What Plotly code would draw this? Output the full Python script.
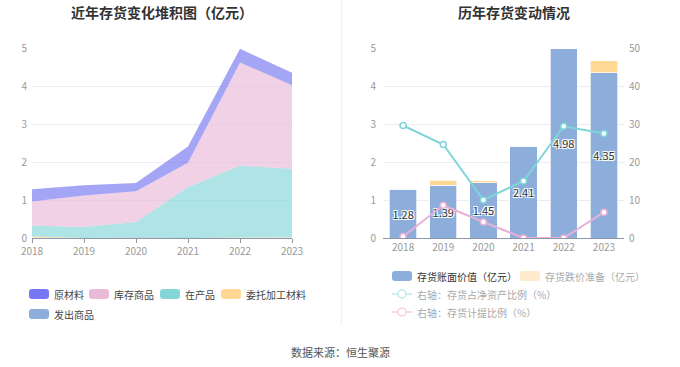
import plotly.graph_objects as go

W, H = 680, 367
FONT = "Noto Sans CJK SC, Noto Sans, sans-serif"

# ---------------- data ----------------
years = ["2018", "2019", "2020", "2021", "2022", "2023"]

# left chart: stacked inventory composition (亿元)
raw_material = [0.32, 0.27, 0.22, 0.43, 0.36, 0.33]      # 原材料
goods_in_stock = [0.63, 0.83, 0.81, 0.64, 2.72, 2.20]    # 库存商品
work_in_progress = [0.29, 0.29, 0.40, 1.34, 1.89, 1.80]  # 在产品
consigned_material = [0.04, 0.00, 0.00, 0.00, 0.01, 0.02]  # 委托加工材料
goods_shipped = [0.00, 0.00, 0.02, 0.00, 0.00, 0.00]     # 发出商品

# right chart
book_value = [1.28, 1.39, 1.45, 2.41, 4.98, 4.35]        # 存货账面价值（亿元）
impairment = [0.005, 0.13, 0.06, 0.00, 0.00, 0.32]       # 存货跌价准备（亿元）
ratio_net_assets = [29.6, 24.6, 10.0, 15.0, 29.4, 27.5]  # 存货占净资产比例（%）
provision_ratio = [0.4, 8.6, 4.2, 0.0, 0.0, 6.8]         # 存货计提比例（%）

left_ticks = [0, 1, 2, 3, 4, 5]
right_ticks = [0, 10, 20, 30, 40, 50]

# ---------------- styles ----------------
C_RAW = "#7777f2"
C_STOCK = "#e8b9d9"
C_WIP = "#84d6d9"
C_CONS = "#ffd894"
C_SHIP = "#8daed9"
C_BAR = "#8daedb"
C_IMP = "#ffd894"
C_LINE1 = "#7fd5d8"
C_LINE2 = "#e8b0d8"


def rgba(hexc, a):
    hexc = hexc.lstrip("#")
    r, g, b = int(hexc[0:2], 16), int(hexc[2:4], 16), int(hexc[4:6], 16)
    return f"rgba({r},{g},{b},{a})"


def xp(px):
    return px / W


def yp(py):
    return 1 - py / H


fig = go.Figure()

# ---------------- left: stacked area ----------------
area_series = [
    ("委托加工材料", consigned_material, C_CONS),
    ("发出商品", goods_shipped, C_SHIP),
    ("在产品", work_in_progress, C_WIP),
    ("库存商品", goods_in_stock, C_STOCK),
    ("原材料", raw_material, C_RAW),
]
for name, vals, col in area_series:
    fig.add_trace(go.Scatter(
        x=years, y=vals, name=name, mode="lines", stackgroup="one",
        line=dict(width=0, color=col), fillcolor=rgba(col, 0.66),
        showlegend=False, xaxis="x", yaxis="y",
    ))

# ---------------- right: bars + lines ----------------
shadow = "-1px -1px 0 #fff, 1px -1px 0 #fff, -1px 1px 0 #fff, 1px 1px 0 #fff, 0 0 2px #fff"
fig.add_trace(go.Bar(
    x=years, y=book_value, name="存货账面价值（亿元）", marker=dict(color=C_BAR, line=dict(color="rgba(255,255,255,0.7)", width=1)),
    text=[f"{v:.2f}" for v in book_value], textposition="inside", insidetextanchor="middle",
    textangle=0, constraintext="none",
    textfont=dict(size=11, color="#333", family=FONT, shadow=shadow),
    showlegend=False, xaxis="x2", yaxis="y2",
))
fig.add_trace(go.Bar(
    x=years, y=impairment, name="存货跌价准备（亿元）", marker=dict(color=C_IMP, line=dict(color="rgba(255,255,255,0.7)", width=1)),
    showlegend=False, xaxis="x2", yaxis="y2", textposition="none",
))
fig.add_trace(go.Scatter(
    x=years, y=ratio_net_assets, name="右轴：存货占净资产比例（%）", mode="lines+markers",
    line=dict(color=C_LINE1, width=2),
    marker=dict(symbol="circle", size=6, color="white", line=dict(color=C_LINE1, width=1.5)),
    showlegend=False, xaxis="x2", yaxis="y3",
))
fig.add_trace(go.Scatter(
    x=years, y=provision_ratio, name="右轴：存货计提比例（%）", mode="lines+markers",
    line=dict(color=C_LINE2, width=2),
    marker=dict(symbol="circle", size=6, color="white", line=dict(color=C_LINE2, width=1.5)),
    showlegend=False, xaxis="x2", yaxis="y3",
))

tickfont = dict(size=10, color="#999", family=FONT)
grid = "#e9edf5"
axis_line = "#8f98a8"
ydom = [yp(238), yp(48)]

fig.update_layout(
    width=W, height=H, margin=dict(l=0, r=0, t=0, b=0, pad=0, autoexpand=False),
    paper_bgcolor="white", plot_bgcolor="white",
    font=dict(family=FONT),
    barmode="stack", bargap=0.32,
    xaxis=dict(domain=[xp(32), xp(292)], type="category", range=[0, 5], automargin=False,
               showline=True, linecolor=axis_line, linewidth=1,
               ticks="outside", ticklen=4, tickcolor=axis_line,
               showgrid=False, tickfont=tickfont, anchor="y", fixedrange=True),
    yaxis=dict(domain=ydom, range=[0, 5], tickvals=left_ticks, automargin=False,
               showgrid=True, gridcolor=grid, zeroline=False,
               showline=False, tickfont=tickfont, anchor="x", ticklabelstandoff=4),
    xaxis2=dict(domain=[xp(383), xp(624)], type="category", range=[-0.5, 5.5], automargin=False,
                showline=True, linecolor=axis_line, linewidth=1, ticks="",
                showgrid=False, tickfont=tickfont, anchor="y2"),
    yaxis2=dict(domain=ydom, range=[0, 5], tickvals=left_ticks, automargin=False,
                showgrid=True, gridcolor=grid, zeroline=False,
                showline=False, tickfont=tickfont, anchor="x2", ticklabelstandoff=6),
    yaxis3=dict(domain=ydom, range=[0, 50], tickvals=right_ticks, overlaying="y2", automargin=False,
                side="right", showgrid=False, zeroline=False, showline=False,
                tickfont=tickfont, anchor="x2", ticklabelstandoff=4),
)

annotations = []
shapes = []

# titles
annotations.append(dict(x=xp(162), y=yp(12), xref="paper", yref="paper", text="<b>近年存货变化堆积图（亿元）</b>",
                        showarrow=False, xanchor="center", yanchor="middle",
                        font=dict(size=14, color="#333", family=FONT)))
annotations.append(dict(x=xp(514), y=yp(12), xref="paper", yref="paper", text="<b>历年存货变动情况</b>",
                        showarrow=False, xanchor="center", yanchor="middle",
                        font=dict(size=14, color="#333", family=FONT)))
# source
annotations.append(dict(x=xp(340), y=yp(352), xref="paper", yref="paper", text="数据来源：恒生聚源",
                        showarrow=False, xanchor="center", yanchor="middle",
                        font=dict(size=11, color="#555", family=FONT)))

# divider
shapes.append(dict(type="line", xref="paper", yref="paper", x0=xp(341.5), x1=xp(341.5),
                   y0=yp(0), y1=yp(325), line=dict(color="#f0f0f0", width=1)))


def rrect(x0, y0, x1, y1, r=3):
    X = lambda v: xp(v)
    Y = lambda v: yp(v)
    return (f"M {X(x0 + r)},{Y(y0)} L {X(x1 - r)},{Y(y0)} Q {X(x1)},{Y(y0)} {X(x1)},{Y(y0 + r)} "
            f"L {X(x1)},{Y(y1 - r)} Q {X(x1)},{Y(y1)} {X(x1 - r)},{Y(y1)} "
            f"L {X(x0 + r)},{Y(y1)} Q {X(x0)},{Y(y1)} {X(x0)},{Y(y1 - r)} "
            f"L {X(x0)},{Y(y0 + r)} Q {X(x0)},{Y(y0)} {X(x0 + r)},{Y(y0)} Z")


def legend_box(x, yc, color, text, tcolor="#444"):
    shapes.append(dict(type="path", xref="paper", yref="paper", path=rrect(x, yc - 5, x + 20, yc + 5),
                       fillcolor=color, line=dict(width=0)))
    annotations.append(dict(x=xp(x + 23), y=yp(yc), xref="paper", yref="paper", text=text,
                            showarrow=False, xanchor="left", yanchor="middle",
                            font=dict(size=10, color=tcolor, family=FONT)))


def legend_line(x, yc, color, text, tcolor="#aaa"):
    shapes.append(dict(type="line", xref="paper", yref="paper", x0=xp(x), x1=xp(x + 20),
                       y0=yp(yc), y1=yp(yc), line=dict(color=color, width=1.5)))
    shapes.append(dict(type="circle", xref="paper", yref="paper", x0=xp(x + 6), x1=xp(x + 14),
                       y0=yp(yc + 4), y1=yp(yc - 4), fillcolor="white", line=dict(color=color, width=1.5)))
    annotations.append(dict(x=xp(x + 23), y=yp(yc), xref="paper", yref="paper", text=text,
                            showarrow=False, xanchor="left", yanchor="middle",
                            font=dict(size=10, color=tcolor, family=FONT)))


# left legend
legend_box(29, 294, C_RAW, "原材料")
legend_box(89, 294, C_STOCK, "库存商品")
legend_box(160, 294, C_WIP, "在产品")
legend_box(221, 294, C_CONS, "委托加工材料")
legend_box(29, 314, C_SHIP, "发出商品")

# right legend
legend_box(392, 276, C_BAR, "存货账面价值（亿元）", "#333")
legend_box(520, 276, "#ffeacc", "存货跌价准备（亿元）", "#aaa")
legend_line(392, 294, "#bfe9ea", "右轴：存货占净资产比例（%）")
legend_line(392, 312, "#f4cfe6", "右轴：存货计提比例（%）")

fig.update_layout(annotations=annotations, shapes=shapes)

fig.write_html("out.html", config={"displayModeBar": False},
               post_script="document.body.style.margin='0px';document.body.style.overflow='hidden';")
